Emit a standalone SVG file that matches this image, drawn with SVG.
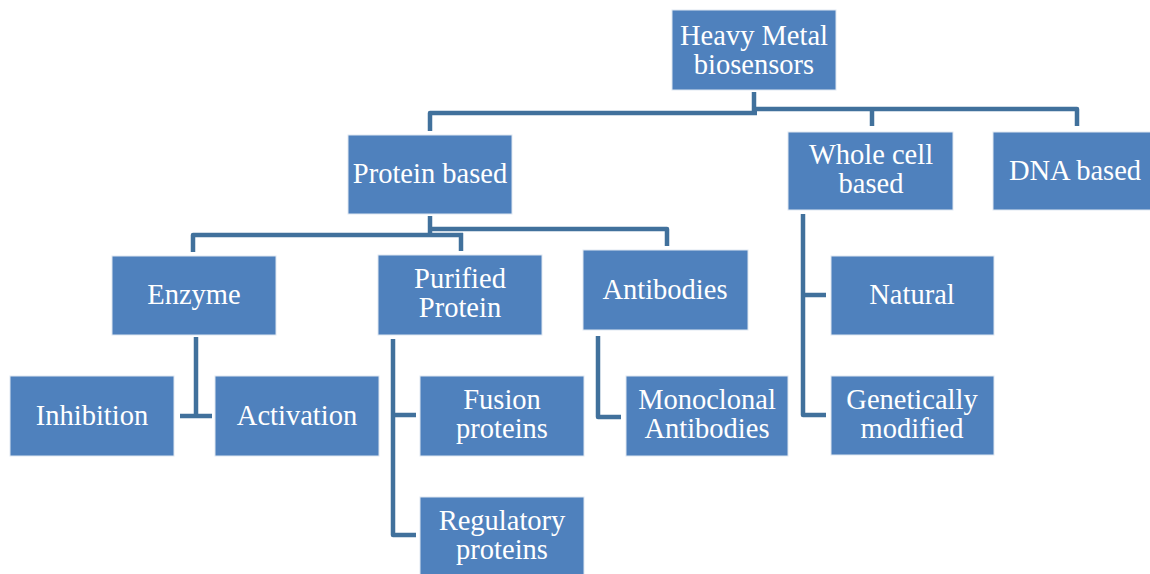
<svg xmlns="http://www.w3.org/2000/svg" width="1150" height="574" viewBox="0 0 1150 574">
<style>
.box{fill:#4f81bd;stroke:#dfe7f1;stroke-width:1}
.t{font-family:"Liberation Serif","Times New Roman",serif;font-size:28.5px;fill:#ffffff;text-anchor:middle}
.c{fill:none;stroke:#41719c;stroke-width:4.5;stroke-linejoin:round;stroke-linecap:butt}
</style>
<rect width="1150" height="574" fill="#ffffff"/>
<g id="connectors">
<path class="c" d="M754,92 V113"/>
<path class="c" d="M430,131 V113 H757"/>
<path class="c" d="M752,109 H1077 V126"/>
<path class="c" d="M872,110 V126"/>
<path class="c" d="M430,216 V235"/>
<path class="c" d="M193,252 V235 H463"/>
<path class="c" d="M461,233 V251"/>
<path class="c" d="M428,229 H667 V246"/>
<path class="c" d="M196,337 V416 M180,416 H212"/>
<path class="c" d="M393,339 V535 H416 M393,415 H416"/>
<path class="c" d="M598,336 V417 H621"/>
<path class="c" d="M803,214 V415 H826 M803,295 H826"/>
</g>
<g id="n-heavy"><rect class="box" x="672" y="10" width="164" height="80"/><text class="t" x="754" y="45">Heavy Metal</text><text class="t" x="754" y="74">biosensors</text></g>
<g id="n-protein"><rect class="box" x="348" y="135" width="164" height="79"/><text class="t" x="430" y="183">Protein based</text></g>
<g id="n-whole"><rect class="box" x="788" y="132" width="165" height="78"/><text class="t" x="871" y="164">Whole cell</text><text class="t" x="871" y="193">based</text></g>
<g id="n-dna"><rect class="box" x="993" y="132" width="164" height="78"/><text class="t" x="1075" y="180">DNA based</text></g>
<g id="n-enzyme"><rect class="box" x="112" y="256" width="164" height="79"/><text class="t" x="194" y="304">Enzyme</text></g>
<g id="n-purified"><rect class="box" x="378" y="255" width="164" height="80"/><text class="t" x="460" y="288">Purified</text><text class="t" x="460" y="317">Protein</text></g>
<g id="n-antibodies"><rect class="box" x="583" y="250" width="165" height="80"/><text class="t" x="665" y="299">Antibodies</text></g>
<g id="n-natural"><rect class="box" x="831" y="256" width="163" height="79"/><text class="t" x="912" y="304">Natural</text></g>
<g id="n-inhibition"><rect class="box" x="10" y="376" width="164" height="80"/><text class="t" x="92" y="425">Inhibition</text></g>
<g id="n-activation"><rect class="box" x="215" y="376" width="164" height="80"/><text class="t" x="297" y="425">Activation</text></g>
<g id="n-fusion"><rect class="box" x="420" y="376" width="164" height="80"/><text class="t" x="502" y="409">Fusion</text><text class="t" x="502" y="438">proteins</text></g>
<g id="n-monoclonal"><rect class="box" x="626" y="376" width="162" height="80"/><text class="t" x="707" y="409">Monoclonal</text><text class="t" x="707" y="438">Antibodies</text></g>
<g id="n-genetic"><rect class="box" x="831" y="376" width="163" height="79"/><text class="t" x="912" y="409">Genetically</text><text class="t" x="912" y="438">modified</text></g>
<g id="n-regulatory"><rect class="box" x="420" y="497" width="164" height="80"/><text class="t" x="502" y="530">Regulatory</text><text class="t" x="502" y="559">proteins</text></g>
</svg>
